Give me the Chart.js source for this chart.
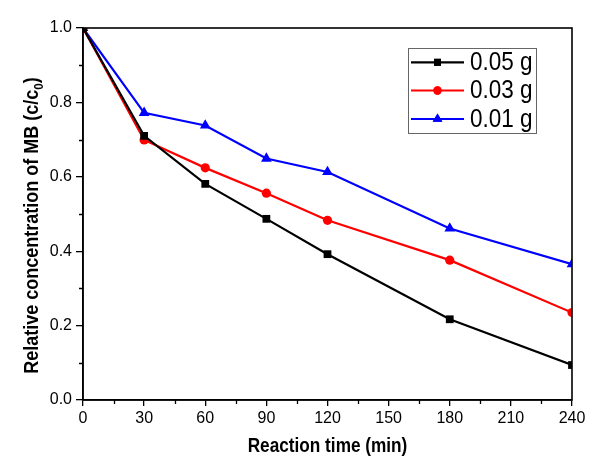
<!DOCTYPE html>
<html><head><meta charset="utf-8">
<script src="https://cdn.jsdelivr.net/npm/chart.js@4/dist/chart.umd.min.js"></script>
<style>html,body{margin:0;padding:0;background:#fff}#wrap{width:600px;height:463px}</style>
</head><body><div id="wrap"><canvas id="c" width="600" height="463"></canvas></div>
<script>
const times = [0, 30, 60, 90, 120, 180, 240];
const series005 = [1.0, 0.71, 0.581, 0.487, 0.392, 0.217, 0.094];
const series003 = [1.0, 0.699, 0.624, 0.556, 0.483, 0.376, 0.235];
const series001 = [1.0, 0.772, 0.738, 0.649, 0.613, 0.461, 0.365];
const seriesLabels = ['0.05 g', '0.03 g', '0.01 g'];
const xTicks = [0, 30, 60, 90, 120, 150, 180, 210, 240];
const xMinorTicks = [15, 45, 75, 105, 135, 165, 195, 225];
const yTicks = [0, 0.2, 0.4, 0.6, 0.8, 1.0];
const yMinorTicks = [0.1, 0.3, 0.5, 0.7, 0.9];
const xTitle = 'Reaction time (min)';
const yTitleMain = 'Relative concentration of MB (c/c';
const yTitleSub = '0';
const yTitleEnd = ')';

const FONT = '"Liberation Sans", Arial, sans-serif';
const toPts = (arr) => times.map((t, i) => ({x: t, y: arr[i]}));

const styles = [
  {color: '#000000', pointStyle: 'rect', radius: 5.5},
  {color: '#ff0000', pointStyle: 'circle', radius: 4.6},
  {color: '#0000ff', pointStyle: 'triangle', radius: 6.2}
];
const allSeries = [series005, series003, series001];

const datasets = allSeries.map((s, i) => ({
  label: seriesLabels[i],
  data: toPts(s),
  borderColor: styles[i].color,
  backgroundColor: styles[i].color,
  pointStyle: styles[i].pointStyle,
  pointRadius: styles[i].radius,
  pointHoverRadius: styles[i].radius,
  pointBorderWidth: 0,
  borderWidth: 2.2,
  tension: 0
}));

const decor = {
  id: 'decor',
  afterDraw(chart) {
    const ctx = chart.ctx;
    const a = chart.chartArea;
    const xs = chart.scales.x, ys = chart.scales.y;
    ctx.save();
    // frame
    ctx.strokeStyle = '#000';
    ctx.lineWidth = 1.6;
    ctx.strokeRect(a.left, a.top, a.right - a.left, a.bottom - a.top);
    // minor ticks
    ctx.lineWidth = 1.3;
    ctx.beginPath();
    xMinorTicks.forEach(v => {
      const px = Math.round(xs.getPixelForValue(v)) + 0.5;
      ctx.moveTo(px, a.bottom); ctx.lineTo(px, a.bottom + 4);
    });
    yMinorTicks.forEach(v => {
      const py = Math.round(ys.getPixelForValue(v)) + 0.5;
      ctx.moveTo(a.left, py); ctx.lineTo(a.left - 4, py);
    });
    ctx.stroke();

    // x title
    ctx.fillStyle = '#000';
    ctx.font = 'bold 20px ' + FONT;
    ctx.textBaseline = 'alphabetic';
    ctx.textAlign = 'left';
    const sx = 0.86;
    let w = ctx.measureText(xTitle).width * sx;
    ctx.save();
    ctx.translate(327.5 - w / 2, 452);
    ctx.scale(sx, 1);
    ctx.fillText(xTitle, 0, 0);
    ctx.restore();

    // y title
    ctx.save();
    const sy = 0.9;
    ctx.font = 'bold 20px ' + FONT;
    const wMain = ctx.measureText(yTitleMain).width;
    const wEnd = ctx.measureText(yTitleEnd).width;
    ctx.font = 'bold 13px ' + FONT;
    const wSub = ctx.measureText(yTitleSub).width;
    const total = (wMain + wSub + wEnd) * sy;
    ctx.translate(38, 225.5 + total / 2);
    ctx.rotate(-Math.PI / 2);
    ctx.scale(sy, 1);
    ctx.font = 'bold 20px ' + FONT;
    ctx.fillText(yTitleMain, 0, 0);
    ctx.font = 'bold 13px ' + FONT;
    ctx.fillText(yTitleSub, wMain, 5);
    ctx.font = 'bold 20px ' + FONT;
    ctx.fillText(yTitleEnd, wMain + wSub, 0);
    ctx.restore();

    // legend
    const bx = 408, by = 48, bw = 128, bh = 85;
    ctx.fillStyle = '#fff';
    ctx.fillRect(bx, by, bw, bh);
    ctx.strokeStyle = '#666';
    ctx.lineWidth = 1;
    ctx.strokeRect(bx + 0.5, by + 0.5, bw, bh);
    const rows = [62.3, 90.5, 119];
    chart.data.datasets.forEach((ds, i) => {
      const y = rows[i];
      ctx.strokeStyle = ds.borderColor;
      ctx.lineWidth = 2.2;
      ctx.beginPath();
      ctx.moveTo(411, y); ctx.lineTo(464, y);
      ctx.stroke();
      ctx.fillStyle = ds.backgroundColor;
      Chart.helpers.drawPoint(ctx, {pointStyle: ds.pointStyle, radius: ds.pointRadius * 0.9, rotation: 0, borderWidth: 0}, 437.5, y);
      ctx.fill();
      ctx.fillStyle = '#000';
      ctx.font = '25px ' + FONT;
      ctx.textBaseline = 'middle';
      ctx.save();
      ctx.translate(470, y + 1);
      ctx.scale(0.9, 1);
      ctx.fillText(ds.label, 0, 0);
      ctx.restore();
    });
    ctx.restore();
  }
};

new Chart(document.getElementById('c'), {
  type: 'line',
  data: {datasets},
  options: {
    responsive: false,
    devicePixelRatio: 1,
    animation: false,
    events: [],
    layout: {padding: {top: 28, right: 28, left: 0, bottom: 0}},
    plugins: {legend: {display: false}, tooltip: {enabled: false}, title: {display: false}},
    scales: {
      x: {
        type: 'linear', min: 0, max: 240,
        afterBuildTicks: (s) => { s.ticks = xTicks.map(v => ({value: v})); },
        afterFit: (s) => { s.height = 63; },
        ticks: {color: '#000', font: {family: FONT, size: 16}, padding: 3, maxRotation: 0, autoSkip: false},
        grid: {drawOnChartArea: false, drawTicks: true, tickLength: 6, color: '#000', lineWidth: 1.3},
        border: {display: true, color: '#000', width: 1.6}
      },
      y: {
        type: 'linear', min: 0, max: 1,
        afterBuildTicks: (s) => { s.ticks = yTicks.map(v => ({value: v})); },
        afterFit: (s) => { s.width = 83; },
        ticks: {color: '#000', font: {family: FONT, size: 16}, padding: 4, callback: (v) => Number(v).toFixed(1)},
        grid: {drawOnChartArea: false, drawTicks: true, tickLength: 7, color: '#000', lineWidth: 1.3},
        border: {display: true, color: '#000', width: 1.6}
      }
    }
  },
  plugins: [decor]
});
</script>
</body></html>
